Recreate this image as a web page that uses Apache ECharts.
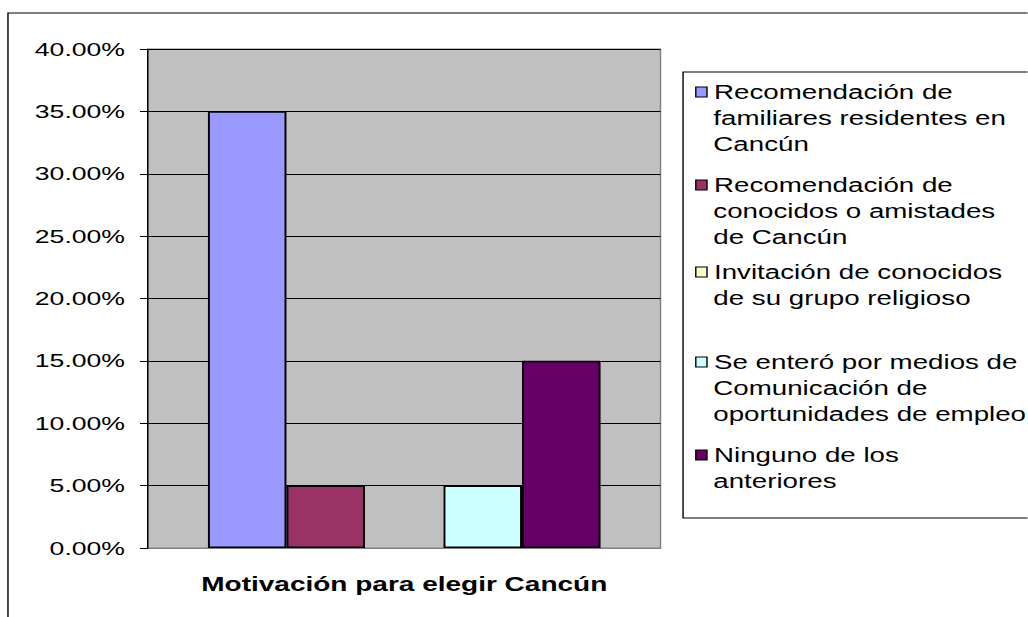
<!DOCTYPE html>
<html>
<head>
<meta charset="utf-8">
<title>Motivación para elegir Cancún</title>
<script src="https://cdn.jsdelivr.net/npm/echarts@6/dist/echarts.min.js"></script>
<style>
  html, body { margin: 0; padding: 0; width: 1028px; height: 617px; overflow: hidden; background: #fff; }
  /* the original picture is stretched sideways, so the chart is drawn narrow and widened */
  #main { width: 734.2857px; height: 617px; transform: scaleX(1.4); transform-origin: 0 0; }
</style>
</head>
<body>
<div id="main"></div>
<script>
  // datos
  const categories = ['Motivación para elegir Cancún']
  const seriesNames = [
    'Recomendación de familiares residentes en Cancún',
    'Recomendación de conocidos o amistades de Cancún',
    'Invitación de conocidos de su grupo religioso',
    'Se enteró por medios de Comunicación de oportunidades de empleo',
    'Ninguno de los anteriores'
  ]
  const seriesValues = [0.35, 0.05, 0, 0.05, 0.15]
  const legendLines = [
    ['Recomendación de', 'familiares residentes en', 'Cancún'],
    ['Recomendación de', 'conocidos o amistades', 'de Cancún'],
    ['Invitación de conocidos', 'de su grupo religioso'],
    ['Se enteró por medios de', 'Comunicación de', 'oportunidades de empleo'],
    ['Ninguno de los', 'anteriores']
  ]
  const yMin = 0
  const yMax = 0.4
  const yStep = 0.05

  const colors = ['#9999FF', '#993366', '#FFFFCC', '#CCFFFF', '#660066']
  const font = 'Liberation Sans, Arial, sans-serif'
  const lineH = 26
  // centro (y) de la primera línea de cada elemento de la leyenda
  const legendRowY = [92, 185, 272, 362, 455]

  const legendText = {
    fontFamily: font,
    fontSize: 19.8,
    color: '#000',
    lineHeight: lineH
  }

  // cada elemento: una leyenda con el icono y la primera línea, otra con el resto del texto
  const legends = []
  seriesNames.forEach((name, i) => {
    const lines = legendLines[i]
    legends.push({
      data: [name],
      orient: 'vertical',
      left: 496.5,
      top: legendRowY[i] - lineH / 2,
      padding: 0,
      itemWidth: 8,
      itemHeight: 10,
      icon: 'rect',
      itemStyle: { borderColor: '#000', borderWidth: 1 },
      formatter: () => lines[0],
      textStyle: legendText
    })
    legends.push({
      data: [name],
      orient: 'vertical',
      left: 496.5,
      top: legendRowY[i] + lineH / 2,
      padding: 0,
      itemWidth: 8,
      itemHeight: 10,
      icon: 'rect',
      itemStyle: { color: 'rgba(0,0,0,0)', borderWidth: 0 },
      formatter: () => lines.slice(1).join('\n'),
      textStyle: legendText
    })
  })

  const myChart = echarts.init(document.getElementById('main'), null, { renderer: 'svg' })
  myChart.setOption({
    animation: false,
    backgroundColor: '#fff',
    color: colors,
    grid: {
      left: 105.7,
      right: 262.2,
      top: 49,
      bottom: 69,
      show: true,
      backgroundColor: '#C0C0C0',
      borderColor: '#808080',
      borderWidth: 1
    },
    legend: legends,
    xAxis: {
      type: 'category',
      data: categories,
      axisLine: { show: true, lineStyle: { color: '#808080', width: 1 } },
      axisTick: { show: false },
      axisLabel: {
        margin: 26,
        fontFamily: font,
        fontSize: 20,
        fontWeight: 'bold',
        color: '#000'
      }
    },
    yAxis: {
      type: 'value',
      min: yMin,
      max: yMax,
      interval: yStep,
      axisLine: { show: true, lineStyle: { color: '#000', width: 1 } },
      axisTick: { show: true, length: 5.7, lineStyle: { color: '#000' } },
      splitLine: { show: true, lineStyle: { color: '#000', width: 1 } },
      axisLabel: {
        margin: 16.4,
        fontFamily: font,
        fontSize: 19,
        color: '#000',
        formatter: v => (v * 100).toFixed(2) + '%'
      }
    },
    series: seriesNames.map((name, i) => ({
      name: name,
      type: 'bar',
      data: [seriesValues[i]],
      barGap: '0%',
      barCategoryGap: '23.4%',
      itemStyle: {
        color: colors[i],
        borderColor: '#000',
        borderWidth: seriesValues[i] > 0 ? 1.4 : 0
      }
    })),
    graphic: [
      { // marco del gráfico
        type: 'rect',
        silent: true,
        shape: { x: 5.7, y: 13, width: 800, height: 700 },
        style: { fill: 'none', stroke: '#000', lineWidth: 1 }
      },
      { // marco de la leyenda
        type: 'rect',
        silent: true,
        shape: { x: 487.9, y: 72, width: 300, height: 446 },
        style: { fill: 'none', stroke: '#000', lineWidth: 1 }
      }
    ]
  })
</script>
</body>
</html>
